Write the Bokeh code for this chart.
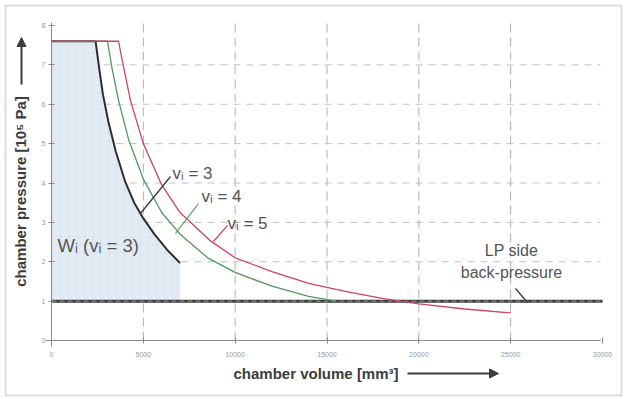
import math
from bokeh.plotting import figure
from bokeh.models import Range1d, FixedTicker, Label, Arrow, NormalHead, BoxAnnotation
from bokeh.embed import file_html
from bokeh.resources import INLINE

# ---- data ----
x_ticks = [0, 5000, 10000, 15000, 20000, 25000, 30000]
y_ticks = [0, 1, 2, 3, 4, 5, 6, 7, 8]
grid_x = [5000, 10000, 15000, 20000, 25000]
grid_y = [2, 3, 4, 5, 6, 7]

v3_volume = [0, 2400, 2600, 2800, 3100, 3500, 4000, 4500, 5000, 5600, 6300, 7000]
v3_pressure = [7.6, 7.6, 6.9, 6.25, 5.55, 4.8, 4.05, 3.5, 3.1, 2.7, 2.3, 1.97]

v4_volume = [0, 3050, 3300, 3650, 4200, 5000, 6000, 7000, 8500, 10000, 12000, 14000, 15500]
v4_pressure = [7.6, 7.6, 6.9, 6.1, 5.1, 4.1, 3.25, 2.7, 2.1, 1.73, 1.38, 1.12, 1.0]

v5_volume = [0, 3650, 3900, 4300, 5000, 6000, 7000, 8600, 10000, 12000, 14000, 16000, 18000, 20000, 22500, 25000]
v5_pressure = [7.6, 7.6, 7.0, 6.1, 5.0, 3.95, 3.25, 2.55, 2.1, 1.75, 1.45, 1.25, 1.07, 0.93, 0.8, 0.7]

back_pressure = 1.0
bp_volume = [0, 30000]

# ---- layout: the plot frame fills the whole canvas ----
W, H = 624, 399
X0_PX, XSCALE = 51, 30000 / 551      # pixel of x=0, data units per pixel
Y0_PX, YSCALE = 340, 39.375          # pixel of y=0, pixels per unit


def X(px):
    return (px - X0_PX) * XSCALE


def Y(py):
    return (Y0_PX - py) / YSCALE


# leader lines of the labels (pixel positions): (x0, y0, x1, y1)
leader_v3 = [140, 213, 170, 176]
leader_v4 = [175, 233, 198, 203]
leader_v5 = [213, 241, 227, 225]
leader_bp = [515, 288, 527, 302]

TXT = "#555555"
FONT = "Liberation Sans"

p = figure(width=W, height=H, x_range=Range1d(X(0), X(W)), y_range=Range1d(Y(H), Y(0)),
           output_backend="svg", toolbar_location=None,
           min_border_left=0, min_border_right=0, min_border_top=0, min_border_bottom=0)
p.outline_line_color = None
p.background_fill_color = "white"
p.border_fill_color = "white"
p.grid.visible = False

# axes drawn at x=0 / y=0 inside the frame
for ax in (p.xaxis[0], p.yaxis[0]):
    ax.fixed_location = 0
    ax.axis_line_color = "#8a8a8a"
    ax.major_tick_line_color = "#8a8a8a"
    ax.major_tick_in = 3
    ax.major_tick_out = 3
    ax.minor_tick_line_color = None
    ax.major_label_text_font_size = "7px"
    ax.major_label_text_color = "#9a9a9a"
    ax.major_label_text_font = FONT
p.xaxis.ticker = FixedTicker(ticks=x_ticks)
p.yaxis.ticker = FixedTicker(ticks=y_ticks)
p.xaxis.bounds = (X(45), X(600))
p.yaxis.bounds = (Y(346), Y(22))
p.xaxis.major_label_standoff = 8
p.yaxis.major_label_standoff = 3

# dashed grid lines (stop at the axes)
p.segment(x0=grid_x, y0=[0] * len(grid_x), x1=grid_x, y1=[Y(22)] * len(grid_x),
          line_color="#b0b0b0", line_dash="9 5", line_width=1)
p.segment(x0=[0] * len(grid_y), y0=grid_y, x1=[X(600)] * len(grid_y), y1=grid_y,
          line_color="#c2c2c2", line_dash="7 6", line_width=1)

# work area under v_i = 3 curve
p.varea(x=v3_volume, y1=[back_pressure] * len(v3_volume), y2=v3_pressure,
        fill_color="#e3ecf4", hatch_pattern="+", hatch_color="#d0dcea",
        hatch_scale=8, hatch_weight=0.5)

# back-pressure line
p.line(bp_volume, [back_pressure] * 2, line_color="#3a3a3a", line_width=3)
p.line(bp_volume, [back_pressure] * 2, line_color="#9a9a9a", line_width=1, line_dash="5 3")

# curves
p.line(v3_volume, v3_pressure, line_color="#2e2e2e", line_width=2)
p.line(v4_volume, v4_pressure, line_color="#4f9a58", line_width=1.3)
p.line(v5_volume, v5_pressure, line_color="#cc4466", line_width=1.3)

# leaders
for ld, col in ((leader_v3, "#333333"), (leader_v4, "#4f9a58"), (leader_v5, "#cc4466"), (leader_bp, "#333333")):
    p.line([X(ld[0]), X(ld[2])], [Y(ld[1]), Y(ld[3])], line_color=col, line_width=1.2)


def lab(px, py, text, size="17px", align="left", angle=0, bold=False, color=TXT):
    p.add_layout(Label(x=X(px), y=Y(py), text=text, text_font=FONT, text_font_size=size,
                       text_color=color, text_align=align, text_baseline="middle",
                       angle=angle, text_font_style="bold" if bold else "normal"))


lab(172, 173, "vᵢ = 3")
lab(201, 196, "vᵢ = 4")
lab(227, 223, "vᵢ = 5")
lab(57, 245, "Wᵢ (vᵢ = 3)", size="18.5px")
lab(511, 250, "LP side", size="16px", align="center")
lab(511, 272, "back-pressure", size="16px", align="center")

# axis titles with arrows
lab(233, 373, "chamber volume [mm³]", size="15px", bold=True, color="#3c3c3c")
lab(20, 191, "chamber pressure [10⁵ Pa]", size="15px", align="center", angle=math.pi / 2,
    bold=True, color="#3c3c3c")
p.add_layout(Arrow(x_start=X(407), y_start=Y(373), x_end=X(498), y_end=Y(373),
                   line_color="#3c3c3c", line_width=2,
                   end=NormalHead(size=9, fill_color="#3c3c3c", line_color="#3c3c3c")))
p.add_layout(Arrow(x_start=X(21), y_start=Y(84), x_end=X(21), y_end=Y(37),
                   line_color="#3c3c3c", line_width=2,
                   end=NormalHead(size=9, fill_color="#3c3c3c", line_color="#3c3c3c")))

# outer frame of the figure
p.add_layout(BoxAnnotation(left=X(5), right=X(621), top=Y(5), bottom=Y(395),
                           fill_color=None, line_color="#8c8c8c", line_width=2))

open("out.html", "w").write(file_html(p, INLINE))
